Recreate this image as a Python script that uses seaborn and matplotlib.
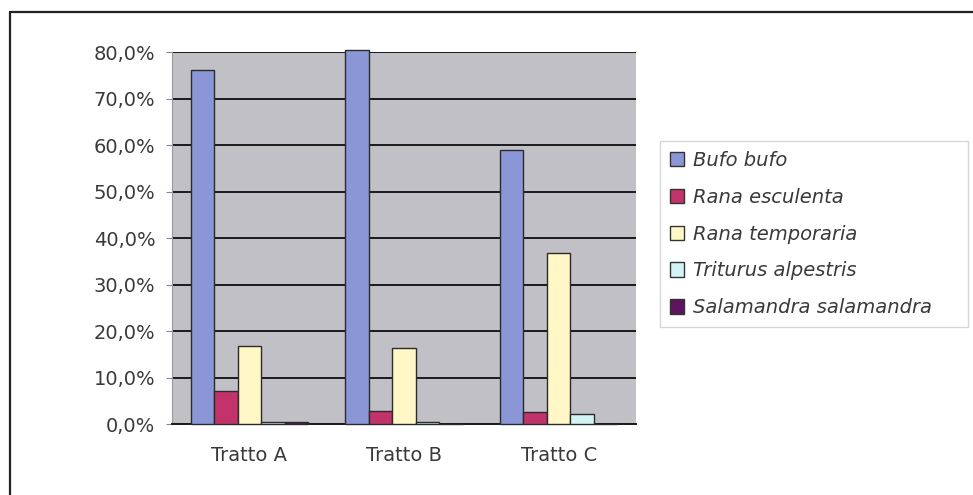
import pandas as pd
import numpy as np
import matplotlib
matplotlib.use("Agg")
import matplotlib.pyplot as plt
import matplotlib.ticker as mticker
from matplotlib.lines import Line2D
import seaborn as sns

# ── Data ────────────────────────────────────────────────────
tratti = ['Tratto A', 'Tratto B', 'Tratto C']
specie = ['Bufo bufo', 'Rana esculenta', 'Rana temporaria',
          'Triturus alpestris', 'Salamandra salamandra']
bufo_bufo       = [0.761, 0.804, 0.589]
rana_esculenta  = [0.071, 0.029, 0.025]
rana_temporaria = [0.168, 0.163, 0.368]
triturus        = [0.005, 0.004, 0.021]
salamandra      = [0.005, 0.000, 0.000]
colori = ['#8a96d6', '#c2336c', '#fff8c6', '#d3f4f4', '#5e1360']

valori = [bufo_bufo, rana_esculenta, rana_temporaria, triturus, salamandra]
df = pd.DataFrame({
    'Tratto': np.tile(tratti, len(specie)),
    'Specie': np.repeat(specie, len(tratti)),
    'Valore': np.concatenate(valori),
})

# ── Plot ────────────────────────────────────────────────────
sns.set_style("white")
plt.rcParams['font.family'] = ['DejaVu Sans']

fig = plt.figure(figsize=(9.73, 4.95), dpi=100)
ax = fig.add_axes([0.1768, 0.1434, 0.4769, 0.7515])
ax.set_facecolor('#c0c0c6')

sns.barplot(data=df, x='Tratto', y='Valore', hue='Specie',
            order=tratti, hue_order=specie, palette=colori, saturation=1,
            width=0.76, edgecolor='#2b2b2b', linewidth=1.0,
            legend=False, ax=ax, zorder=3)
for p in ax.patches:
    p.set_clip_on(False)

ax.set_ylim(0, 0.8)
ax.set_xlim(-0.5, 2.5)
ax.yaxis.set_major_locator(mticker.MultipleLocator(0.1))
ax.yaxis.set_major_formatter(mticker.FuncFormatter(
    lambda v, p: f'{v*100:.1f}%'.replace('.', ',')))
ax.grid(axis='y', color='#1a1a1a', linewidth=1.4, zorder=0)
ax.set_axisbelow(True)
ax.set_xlabel('')
ax.set_ylabel('')
ax.tick_params(axis='y', length=4, color='#888888', labelsize=14,
               labelcolor='#3a3a3a', pad=8, left=True)
ax.tick_params(axis='x', length=0, labelsize=14, labelcolor='#3a3a3a', pad=16)
for s in ['top', 'right']:
    ax.spines[s].set_visible(False)
ax.spines['left'].set_color('#999999')
ax.spines['bottom'].set_color('#1a1a1a')
ax.spines['bottom'].set_linewidth(1.4)

# Legend
handles = [plt.Rectangle((0, 0), 1, 1, facecolor=c, edgecolor='#333333')
           for c in colori]
leg = fig.legend(handles, specie, loc='upper left',
                 bbox_to_anchor=(660 / 973, 1 - 141 / 495, 308 / 973, 0.0),
                 mode='expand', frameon=True,
                 prop={'style': 'italic', 'size': 14},
                 handlelength=0.75, handleheight=0.75, handletextpad=0.45,
                 labelspacing=0.92, borderpad=0.5, borderaxespad=0,
                 fancybox=False)
leg.get_frame().set_edgecolor('#cccccc')
leg.get_frame().set_linewidth(1.0)
for t in leg.get_texts():
    t.set_color('#3a3a3a')

# Cornice esterna del grafico
fig.add_artist(Line2D([0.0103, 0.0103], [0.0, 0.976], color='#222222',
                      linewidth=1.6, transform=fig.transFigure))
fig.add_artist(Line2D([0.0103, 1.0], [0.976, 0.976], color='#222222',
                      linewidth=1.6, transform=fig.transFigure))

plt.savefig('out.png', dpi=100)
